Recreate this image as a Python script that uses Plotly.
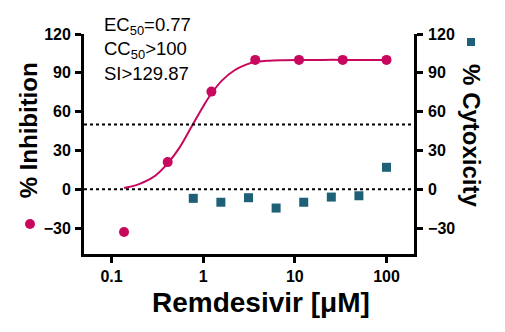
import plotly.graph_objects as go

# Data
inh_conc = [0.137, 0.41, 1.23, 3.7, 11.1, 33.3, 100]
inh_vals = [-33, 21, 75.5, 100, 100, 100, 100]

fit_conc = [0.137, 0.2, 0.3, 0.41, 0.55, 0.77, 1.0, 1.23, 1.6, 2.2, 3.0, 3.7, 5.0, 7.0, 11.1, 20, 33.3, 60, 100]
fit_vals = [1, 4, 10.5, 20, 32, 50, 64, 74, 84, 92, 96.5, 98.5, 99.3, 99.7, 99.9, 100, 100, 100, 100]

cyto_conc = [0.78, 1.56, 3.125, 6.25, 12.5, 25, 50, 100]
cyto_vals = [-7, -10, -6.5, -14.5, -10, -6, -5, 17]

x_ticks = [0.1, 1, 10, 100]
x_ticklabels = ["0.1", "1", "10", "100"]
y_ticks = [-30, 0, 30, 60, 90, 120]
ref_lines = [50, 0]

MAG = "#C8075E"
TEAL = "#1E6177"
FONT = "Liberation Sans, Arial, sans-serif"

fig = go.Figure()
fig.add_trace(go.Scatter(x=fit_conc, y=fit_vals, mode="lines",
                         line=dict(color=MAG, width=2, shape="spline"),
                         hoverinfo="skip", showlegend=False))
fig.add_trace(go.Scatter(x=inh_conc, y=inh_vals, mode="markers",
                         marker=dict(color=MAG, size=10, symbol="circle"),
                         showlegend=False))
fig.add_trace(go.Scatter(x=cyto_conc, y=cyto_vals, mode="markers", yaxis="y2",
                         marker=dict(color=TEAL, size=9, symbol="square"),
                         showlegend=False))

for v in ref_lines:
    fig.add_shape(type="line", xref="paper", x0=0, x1=1, yref="y", y0=v, y1=v,
                  line=dict(color="black", width=2, dash="dot"))

axis_common = dict(showline=True, linecolor="black", linewidth=2.8,
                   ticks="outside", ticklen=6, tickwidth=2.8, tickcolor="black",
                   showgrid=False, zeroline=False,
                   tickfont=dict(family=FONT, size=16, color="black", weight="bold"))

fig.update_layout(
    width=505, height=332,
    margin=dict(l=84, r=91, t=34, b=78),
    paper_bgcolor="white", plot_bgcolor="white",
    xaxis=dict(type="log", range=[-1.3, 2.3], tickvals=x_ticks, ticktext=x_ticklabels,
               **axis_common),
    yaxis=dict(range=[-50, 120], tickvals=y_ticks, ticklabelstandoff=1, **axis_common),
    yaxis2=dict(range=[-50, 120], tickvals=y_ticks, overlaying="y", side="right",
                ticklabelstandoff=2, **axis_common),
)

# Axis titles
fig.add_annotation(text="% Inhibition", xref="paper", yref="paper", x=-0.168, y=0.56,
                   textangle=-90, showarrow=False,
                   font=dict(family=FONT, size=24, color="black", weight="bold"),
                   xanchor="center", yanchor="middle")
fig.add_annotation(text="% Cytoxicity", xref="paper", yref="paper", x=1.176, y=0.54,
                   textangle=90, showarrow=False,
                   font=dict(family=FONT, size=24, color="black", weight="bold"),
                   xanchor="center", yanchor="middle")
fig.add_annotation(text="Remdesivir [μM]", xref="paper", yref="paper", x=0.535, y=-0.22,
                   showarrow=False,
                   font=dict(family=FONT, size=28, color="black", weight="bold"),
                   xanchor="center", yanchor="middle")

# Legend keys beside axis titles (paper coordinates)
fig.add_shape(type="circle", xref="paper", yref="paper",
              x0=(25 - 84) / 330, x1=(35 - 84) / 330,
              y0=(254 - 229) / 220, y1=(254 - 219) / 220,
              fillcolor=MAG, line=dict(width=0))
fig.add_shape(type="rect", xref="paper", yref="paper",
              x0=(467 - 84) / 330, x1=(475 - 84) / 330,
              y0=(254 - 46) / 220, y1=(254 - 38) / 220,
              fillcolor=TEAL, line=dict(width=0))

# Stats text
stats = ["EC<sub>50</sub>=0.77", "CC<sub>50</sub>&gt;100", "SI&gt;129.87"]
stat_y = [26, 50, 74]
for t, py in zip(stats, stat_y):
    fig.add_annotation(text=t, xref="paper", yref="paper",
                       x=(102 - 84) / 330, y=(254 - py) / 220,
                       showarrow=False, xanchor="left", yanchor="middle",
                       font=dict(family=FONT, size=18.5, color="black"))

fig.write_html("out.html")
